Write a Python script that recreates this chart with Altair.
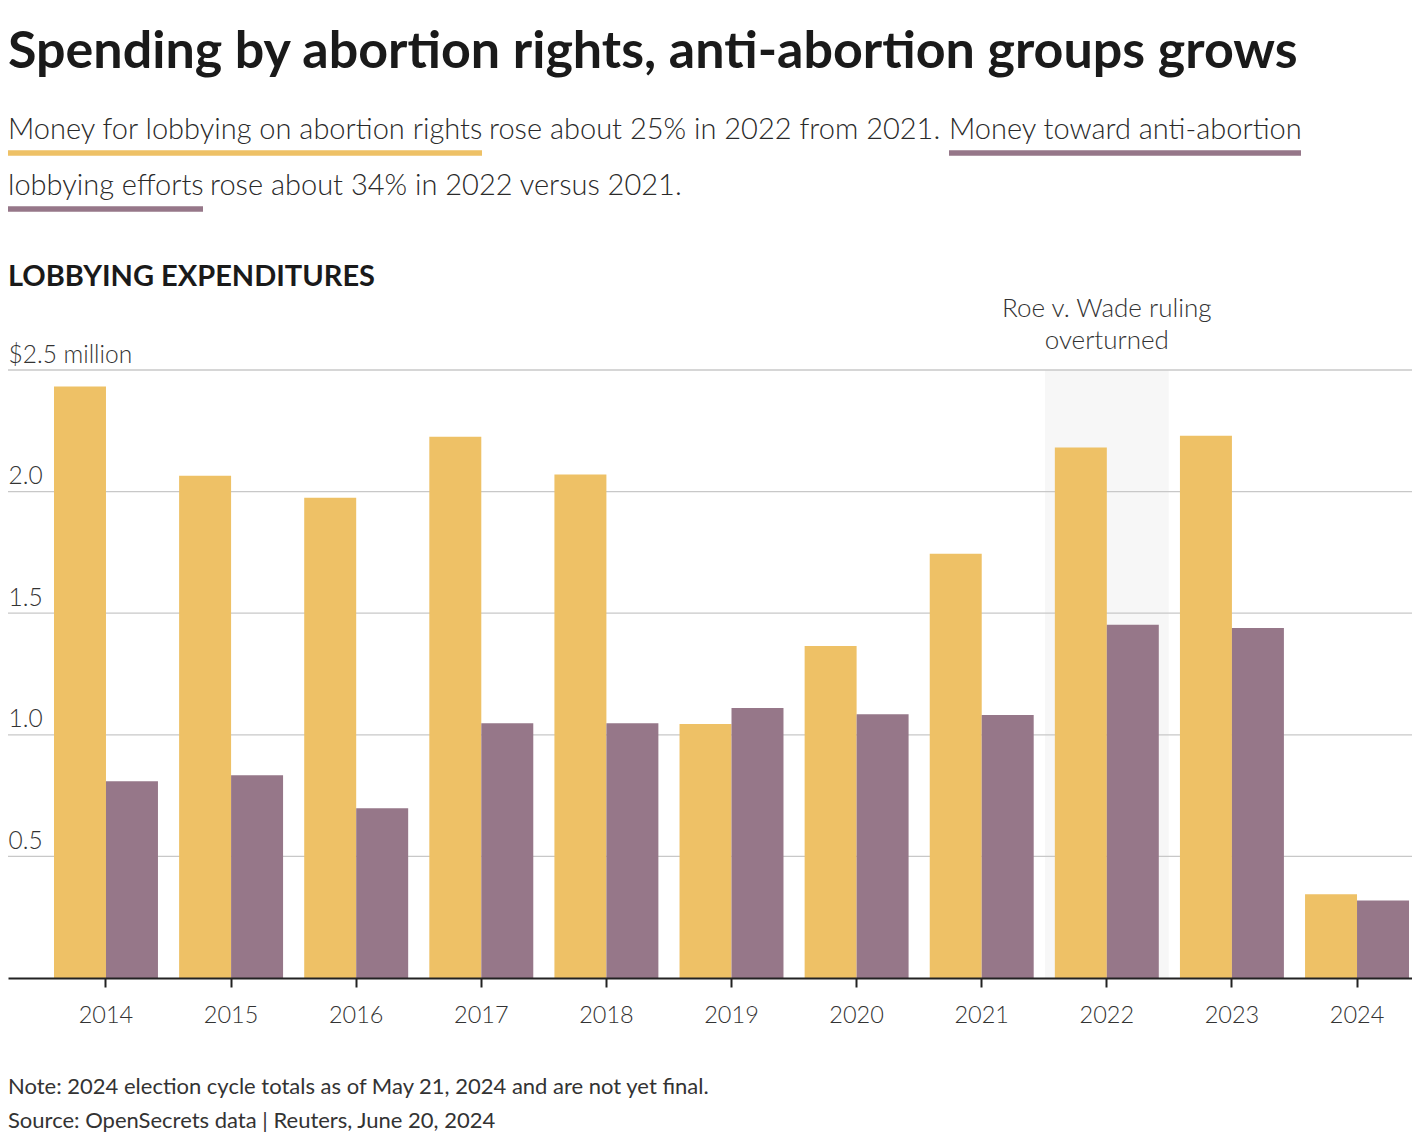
import altair as alt
import pandas as pd

# ---------------- data ----------------
years = ["2014", "2015", "2016", "2017", "2018", "2019", "2020", "2021", "2022", "2023", "2024"]
rights = [2.432, 2.065, 1.975, 2.226, 2.070, 1.044, 1.365, 1.744, 2.181, 2.230, 0.344]
anti = [0.809, 0.834, 0.698, 1.048, 1.048, 1.110, 1.085, 1.081, 1.452, 1.439, 0.319]
series_names = ["Abortion rights", "Anti-abortion"]
series_colors = ["#EEC166", "#967789"]
grid_values = [0.5, 1.0, 1.5, 2.0, 2.5]
highlight_year = ["2022"]

title_text = "Spending by abortion rights, anti-abortion groups grows"
sub1a = "Money for lobbying on abortion rights"
sub1b = "rose about 25% in 2022 from 2021."
sub1c = "Money toward anti-abortion"
sub2a = "lobbying efforts"
sub2b = "rose about 34% in 2022 versus 2021."
header_text = "LOBBYING EXPENDITURES"
annot1 = "Roe v. Wade ruling"
annot2 = "overturned"
note_text = "Note: 2024 election cycle totals as of May 21, 2024 and are not yet final."
source_text = "Source: OpenSecrets data | Reuters, June 20, 2024"

FONT = "Lato"

df = pd.DataFrame({
    "year": years * 2,
    "series": [series_names[0]] * len(years) + [series_names[1]] * len(years),
    "value": rights + anti,
})

W, H = 1404, 608

xscale = alt.Scale(domain=years, paddingInner=0.169, paddingOuter=0.1958, align=0.939)
yscale = alt.Scale(domain=[0, 2.5], nice=False, zero=True)

x_axis = alt.Axis(
    title=None, labelAngle=0, grid=False, domainColor="#222222", domainWidth=2,
    tickColor="#222222", tickWidth=2, tickSize=9, labelFont=FONT, labelFontSize=23.5,
    labelFontWeight=300, labelColor="#333333", labelBaseline="alphabetic",
    labelPadding=35, zindex=1,
)
y_axis = alt.Axis(
    title=None, values=grid_values, grid=False, domain=False, ticks=False, tickSize=0,
    labelAlign="left", labelBaseline="alphabetic", labelPadding=0, labelOffset=-8,
    labelFont=FONT, labelFontSize=24.5, labelFontWeight=300, labelColor="#333333",
    labelExpr="datum.value == 2.5 ? '$2.5 million' : format(datum.value, '.1f')",
)

# highlight band for 2022
hl = alt.Chart(pd.DataFrame({"year": highlight_year, "value": [2.5]})).mark_bar(
    color="#F7F7F7", width={"band": 1.19}
).encode(
    x=alt.X("year:N", scale=xscale, axis=x_axis),
    y=alt.Y("value:Q", scale=yscale, axis=y_axis),
)

grid = alt.Chart(pd.DataFrame({"value": grid_values})).mark_rule(
    color="#C8C8C8", strokeWidth=1.3
).encode(y=alt.Y("value:Q", scale=yscale, axis=y_axis))

bars = alt.Chart(df).mark_bar().encode(
    x=alt.X("year:N", scale=xscale, axis=x_axis),
    xOffset=alt.XOffset("series:N", sort=series_names, scale=alt.Scale(domain=series_names, paddingInner=0, paddingOuter=0)),
    y=alt.Y("value:Q", scale=yscale, axis=y_axis),
    color=alt.Color("series:N", scale=alt.Scale(domain=series_names, range=series_colors), legend=None),
)

one = pd.DataFrame({"t": [""]})


def txt(s, x, y, size, weight=400, color="#222222", align="left"):
    return alt.Chart(pd.DataFrame({"t": [s]})).mark_text(
        align=align, baseline="alphabetic", fontSize=size, fontWeight=weight,
        color=color, font=FONT,
    ).encode(text="t:N", x=alt.value(x), y=alt.value(y))


def uline(x1, x2, y, color):
    return alt.Chart(one).mark_rule(color=color, strokeWidth=5.5).encode(
        x=alt.value(x1), x2=alt.value(x2), y=alt.value(y)
    )


def annot(s, y):
    return alt.Chart(pd.DataFrame({"t": [s]})).mark_text(
        align="center", baseline="alphabetic", fontSize=26, fontWeight=300,
        color="#333333", font=FONT,
    ).encode(text="t:N", x=alt.X(datum="2022", type="nominal", scale=xscale), y=alt.value(y))


SUB = 29
SUBC = "#2A2A2A"
layers = [
    hl, grid, bars,
    txt(title_text, 0, -302, 52, 700, "#1A1A1A"),
    uline(0, 474, -217, series_colors[0]),
    uline(941, 1293, -217, series_colors[1]),
    uline(0, 195, -161, series_colors[1]),
    txt(sub1a, 0, -231, SUB, 300, SUBC),
    txt(sub1b, 481, -231, SUB, 300, SUBC),
    txt(sub1c, 941, -231, SUB, 300, SUBC),
    txt(sub2a, 0, -175, SUB, 300, SUBC),
    txt(sub2b, 202, -175, SUB, 300, SUBC),
    txt(header_text, 0, -84, 29, 700, "#1A1A1A"),
    annot(annot1, -53), annot(annot2, -21),
    txt(note_text, 0, 724, 22, 400, "#333333"),
    txt(source_text, 0, 758, 22, 400, "#333333"),
]

chart = alt.layer(*layers).properties(
    width=W, height=H,
    padding={"top": 362, "left": 0, "right": 0, "bottom": 156},
    autosize=alt.AutoSizeParams(type="none"),
    background="white",
).configure_view(stroke=None)

chart.save("out.html", embed_options={"renderer": "svg", "actions": False})
